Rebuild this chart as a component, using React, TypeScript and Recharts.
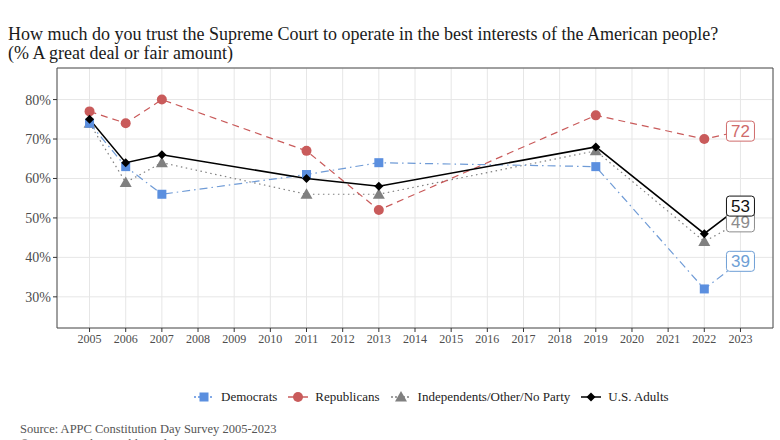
import {LineChart, Line, XAxis, YAxis, CartesianGrid, ReferenceArea} from "recharts";

const years = [2005, 2006, 2007, 2011, 2013, 2019, 2022, 2023];
const democrats = [74, 63, 56, 61, 64, 63, 32, 39];
const republicans = [77, 74, 80, 67, 52, 76, 70, 72];
const independents = [74, 59, 64, 56, 56, 67, 44, 49];
const adults = [75, 64, 66, 60, 58, 68, 46, 53];

const yearTicks = [2005, 2006, 2007, 2008, 2009, 2010, 2011, 2012, 2013, 2014, 2015, 2016, 2017, 2018, 2019, 2020, 2021, 2022, 2023];
const pctTicks = [30, 40, 50, 60, 70, 80];

const data = years.map((year, i) => ({
    year,
    dem: democrats[i],
    rep: republicans[i],
    ind: independents[i],
    adu: adults[i],
}));

const SERIF = "'Liberation Serif', 'DejaVu Serif', serif";
const SANS = "'Liberation Sans', Arial, sans-serif";

const BLUE = "#5b8fdf";
const RED = "#c95b5b";
const GREY = "#808080";
const BLACK = "#000000";

type Shape = "square" | "circle" | "triangle" | "diamond";

const marker = (shape: Shape, cx: number, cy: number, color: string) => {
    if (shape === "square") return <rect x={cx - 4.5} y={cy - 4.5} width={9} height={9} fill={color}/>;
    if (shape === "circle") return <circle cx={cx} cy={cy} r={5} fill={color}/>;
    if (shape === "triangle") return <polygon points={`${cx},${cy - 6} ${cx + 6},${cy + 4.5} ${cx - 6},${cy + 4.5}`} fill={color}/>;
    return <polygon points={`${cx},${cy - 4.5} ${cx + 4.5},${cy} ${cx},${cy + 4.5} ${cx - 4.5},${cy}`} fill={color}/>;
};

// markers for every survey year, a boxed value label for the last one
const makeDot = (shape: Shape, color: string, labelColor: string) => (props: any) => {
    const {cx, cy, index, value} = props;
    if (index === years.length - 1) {
        return (
            <g key={`d-${index}`}>
                <rect x={cx - 14} y={cy - 10} width={28} height={20} rx={3} fill="#fff" stroke={labelColor} strokeWidth={1}/>
                <text x={cx} y={cy + 6} textAnchor="middle" fontSize={17} fontFamily={SANS} fill={labelColor}>{value}</text>
            </g>
        );
    }
    return <g key={`d-${index}`}>{marker(shape, cx, cy, color)}</g>;
};

const legendItems = [
    {name: "Democrats", shape: "square" as Shape, color: BLUE, dash: "2 2"},
    {name: "Republicans", shape: "circle" as Shape, color: RED, dash: undefined},
    {name: "Independents/Other/No Party", shape: "triangle" as Shape, color: GREY, dash: "2 2"},
    {name: "U.S. Adults", shape: "diamond" as Shape, color: BLACK, dash: undefined},
];

const App = () => {
    return (
        <div style={{position: "absolute", left: 0, top: 0, width: 780, height: 440, overflow: "hidden", background: "#fff", fontFamily: SERIF}}>
            <div style={{position: "absolute", left: 8, top: 25, fontSize: 18, lineHeight: "19px", color: "#1a1a1a"}}>
                How much do you trust the Supreme Court to operate in the best interests of the American people?<br/>
                (% A great deal or fair amount)
            </div>
            <LineChart width={780} height={440} data={data} margin={{top: 68, right: 7, left: 0, bottom: 82}}>
                <CartesianGrid stroke="#e6e6e6" strokeWidth={1}/>
                <XAxis dataKey="year" type="number" domain={[2004.1, 2023.9]} ticks={yearTicks} interval={0}
                       axisLine={false} tickLine={{stroke: "#333"}} tickSize={4}
                       tick={{fontSize: 12, fill: "#4d4d4d", fontFamily: SERIF}} height={30}/>
                <YAxis type="number" domain={[22.1, 88]} ticks={pctTicks} tickFormatter={(v) => `${v}%`}
                       axisLine={false} tickLine={{stroke: "#333"}} tickSize={4} width={57}
                       tick={{fontSize: 14, fill: "#4d4d4d", fontFamily: SERIF}}/>
                <ReferenceArea x1={2004.1} x2={2023.9} y1={22.1} y2={88} fill="none" stroke="#4d4d4d" strokeWidth={1}/>
                <Line dataKey="ind" stroke={GREY} strokeWidth={1.2} strokeDasharray="1.5 3.5"
                      dot={makeDot("triangle", GREY, "#8c8c8c")} isAnimationActive={false}/>
                <Line dataKey="rep" stroke={RED} strokeWidth={1.2} strokeDasharray="7 5"
                      dot={makeDot("circle", RED, "#cf6b6b")} isAnimationActive={false}/>
                <Line dataKey="dem" stroke="#6f9bd6" strokeWidth={1.2} strokeDasharray="8 4 1.5 4"
                      dot={makeDot("square", BLUE, "#6e9fd6")} isAnimationActive={false}/>
                <Line dataKey="adu" stroke={BLACK} strokeWidth={1.5}
                      dot={makeDot("diamond", BLACK, "#111")} isAnimationActive={false}/>
            </LineChart>
            <div style={{position: "absolute", left: 194, top: 388, display: "flex", alignItems: "center", height: 18, fontSize: 13, color: "#222"}}>
                {legendItems.map((it) => (
                    <div key={it.name} style={{display: "flex", alignItems: "center", marginRight: 11}}>
                        <svg width={20} height={16} style={{marginRight: 7}}>
                            <line x1={0} y1={8} x2={20} y2={8} stroke={it.color} strokeWidth={1.5} strokeDasharray={it.dash}/>
                            {marker(it.shape, 10, 8, it.color)}
                        </svg>
                        <span>{it.name}</span>
                    </div>
                ))}
            </div>
            <div style={{position: "absolute", left: 20, top: 422, fontSize: 12.5, lineHeight: "15px", color: "#555"}}>
                Source: APPC Constitution Day Survey 2005-2023<br/>
                ©2023 Annenberg Public Policy Center
            </div>
        </div>
    );
};

export default App;
